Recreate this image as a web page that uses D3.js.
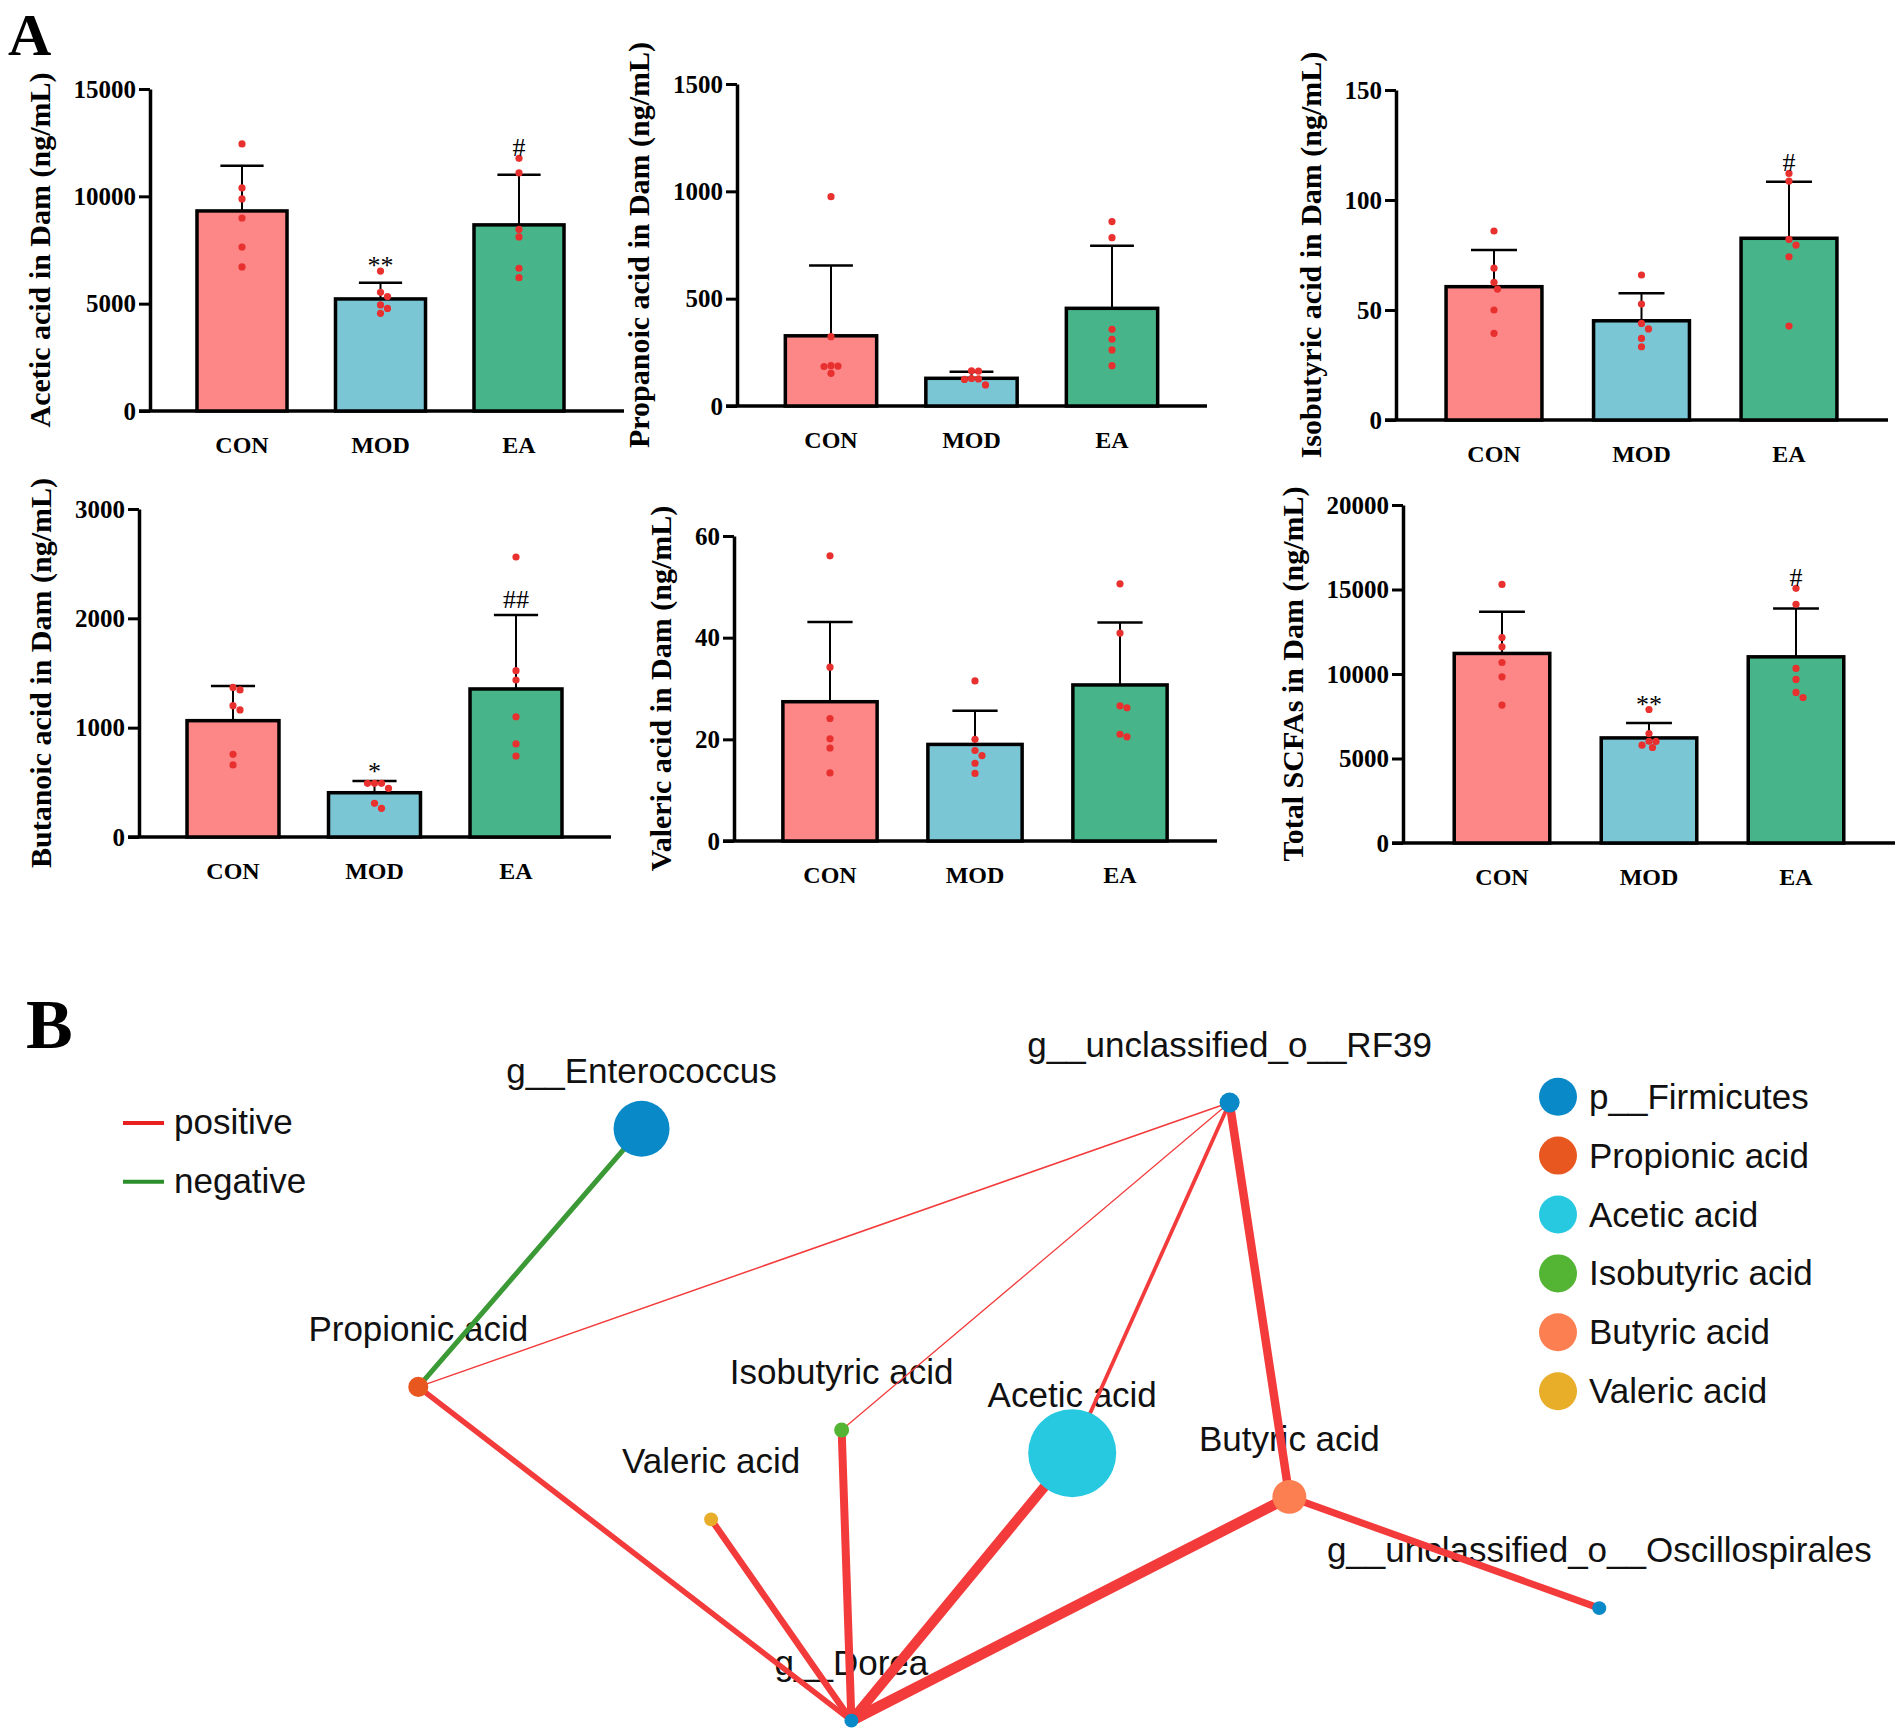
<!DOCTYPE html>
<html>
<head>
<meta charset="utf-8">
<script src="https://cdn.jsdelivr.net/npm/d3@7"></script>
<style>
  body { margin: 0; background: #fff; }
  svg { display: block; }
</style>
</head>
<body>
<div id="chart"></div>
<script>
// ---------- panel A data ----------
let groups = ["CON", "MOD", "EA"];
let groupColors = ["#fd8787", "#7bc6d4", "#47b48a"];

let aceticTicks = [0, 5000, 10000, 15000];
let aceticMean = [9320, 5220, 8670];
let aceticErr = [2100, 750, 2330];
let aceticPoints = [
  [12440, 10390, 9880, 8990, 7640, 6710],
  [6520, 5530, 5330, 4940, 4780, 4550],
  [11770, 11090, 8460, 8110, 6650, 6210]
];
let aceticMarks = ["", "**", "#"];

let propanoicTicks = [0, 500, 1000, 1500];
let propanoicMean = [327, 129, 455];
let propanoicErr = [327, 31, 292];
let propanoicPoints = [
  [975, 323, 188, 186, 184, 152],
  [164, 162, 128, 126, 124, 98],
  [859, 784, 357, 311, 261, 188]
];
let propanoicMarks = ["", "", ""];

let isobutyricTicks = [0, 50, 100, 150];
let isobutyricMean = [60.6, 45.1, 82.6];
let isobutyricErr = [16.7, 12.5, 25.7];
let isobutyricPoints = [
  [85.9, 69.0, 62.6, 59.5, 50.0, 39.4],
  [65.9, 52.7, 43.9, 41.4, 37.1, 33.3],
  [112.1, 108.6, 82.1, 79.5, 74.2, 42.7]
];
let isobutyricMarks = ["", "", "#"];

let butanoicTicks = [0, 1000, 2000, 3000];
let butanoicMean = [1064, 405, 1354];
let butanoicErr = [317, 107, 676];
let butanoicPoints = [
  [1368, 1345, 1201, 1162, 756, 659],
  [491, 491, 491, 445, 308, 262],
  [2561, 1521, 1436, 1100, 851, 741]
];
let butanoicMarks = ["", "*", "##"];

let valericTicks = [0, 20, 40, 60];
let valericMean = [27.4, 19.0, 30.7];
let valericErr = [15.7, 6.6, 12.3];
let valericPoints = [
  [56.1, 34.2, 24.1, 20.1, 18.3, 13.4],
  [31.5, 20.0, 17.8, 16.8, 15.3, 13.3],
  [50.6, 40.9, 26.6, 26.2, 21.0, 20.5]
];
let valericMarks = ["", "", ""];

let totalTicks = [0, 5000, 10000, 15000, 20000];
let totalMean = [11216, 6218, 11016];
let totalErr = [2465, 889, 2866];
let totalPoints = [
  [15300, 12160, 11610, 10680, 9830, 8160],
  [7900, 6480, 6020, 6010, 5790, 5650],
  [15070, 14120, 10330, 9680, 8910, 8610]
];
let totalMarks = ["", "**", "#"];

// ---------- panel B data ----------
let nodeNames = [
  "g__Enterococcus", "Propionic acid", "g__unclassified_o__RF39",
  "Isobutyric acid", "Acetic acid", "Butyric acid",
  "g__unclassified_o__Oscillospirales", "Valeric acid", "g__Dorea"
];
let nodeClass = [
  "p__Firmicutes", "Propionic acid", "p__Firmicutes",
  "Isobutyric acid", "Acetic acid", "Butyric acid",
  "p__Firmicutes", "Valeric acid", "p__Firmicutes"
];
// layout coordinates (0-100 layout units)
let nodeLayoutX = [19.8, 1.5, 68.0, 36.2, 55.1, 72.9, 98.3, 25.5, 37.0];
let nodeLayoutY = [4.6, 45.9, 0.4, 52.8, 56.5, 63.5, 81.3, 67.1, 99.3];
let nodeWeight = [0.405, 0.052, 0.052, 0.029, 1.0, 0.149, 0.025, 0.025, 0.025];

let edgeSource = [0, 1, 1, 2, 2, 2, 3, 7, 4, 5, 5];
let edgeTarget = [1, 2, 8, 3, 4, 5, 8, 8, 8, 8, 6];
let edgeR = [-0.76, 0.62, 0.78, 0.61, 0.71, 0.90, 0.88, 0.82, 0.96, 0.99, 0.84];

let classNames = ["p__Firmicutes", "Propionic acid", "Acetic acid", "Isobutyric acid", "Butyric acid", "Valeric acid"];
let classColors = ["#0a89c8", "#e8571f", "#27c9e1", "#54b434", "#fb7f50", "#e8ad29"];
let corrTypes = ["positive", "negative"];
let corrColors = ["#f33b3b", "#3b9a36"];

// ---------- setup ----------
let width = 1902;
let height = 1735;
let serif = "'Liberation Serif', 'Times New Roman', serif";
let sans = "'Liberation Sans', Arial, sans-serif";
let dotColor = "#e8302f";
let dotR = 3.6;

let svg = d3
  .select("#chart")
  .append("svg")
  .attr("width", width)
  .attr("height", height)
  .style("background", "#fff");

/* panel letters */
svg.append("text")
  .attr("x", 8).attr("y", 55)
  .attr("font-family", serif).attr("font-weight", "bold").attr("font-size", 60)
  .text("A");
svg.append("text")
  .attr("x", 26).attr("y", 1048)
  .attr("font-family", serif).attr("font-weight", "bold").attr("font-size", 70)
  .text("B");

/* bar panels: axis x, zero y, top y, first centre offset, step, axis end */
let panels = [
  { ax: 150, y0: 411, y1: 89, c0: 92, step: 138.5, xEnd: 624, title: "Acetic acid in Dam (ng/mL)", ticks: aceticTicks, mean: aceticMean, err: aceticErr, pts: aceticPoints, marks: aceticMarks },
  { ax: 737, y0: 406, y1: 84, c0: 94, step: 140.5, xEnd: 1207, title: "Propanoic acid in Dam (ng/mL)", ticks: propanoicTicks, mean: propanoicMean, err: propanoicErr, pts: propanoicPoints, marks: propanoicMarks },
  { ax: 1396, y0: 420, y1: 90, c0: 98, step: 147.5, xEnd: 1888, title: "Isobutyric acid in Dam (ng/mL)", ticks: isobutyricTicks, mean: isobutyricMean, err: isobutyricErr, pts: isobutyricPoints, marks: isobutyricMarks },
  { ax: 139, y0: 837, y1: 509, c0: 94, step: 141.5, xEnd: 611, title: "Butanoic acid in Dam (ng/mL)", ticks: butanoicTicks, mean: butanoicMean, err: butanoicErr, pts: butanoicPoints, marks: butanoicMarks },
  { ax: 734, y0: 841, y1: 536, c0: 96, step: 145, xEnd: 1217, title: "Valeric acid in Dam (ng/mL)", ticks: valericTicks, mean: valericMean, err: valericErr, pts: valericPoints, marks: valericMarks },
  { ax: 1403, y0: 843, y1: 505, c0: 99, step: 147, xEnd: 1895, title: "Total SCFAs in Dam (ng/mL)", ticks: totalTicks, mean: totalMean, err: totalErr, pts: totalPoints, marks: totalMarks }
];

// simple beeswarm: shift points sideways until they stop overlapping
function swarm(ys) {
  let placed = [];
  return ys.map(yy => {
    let cands = [0];
    for (let k = 1; k < 8; k++) cands.push(k * 3.5, -k * 3.5);
    let dx = cands.find(c => placed.every(p => Math.hypot(p.dx - c, p.y - yy) >= 2 * dotR - 0.2));
    placed.push({ dx: dx, y: yy });
    return dx;
  });
}

function drawPanel(p) {
  let g = svg.append("g");
  let y = d3.scaleLinear()
    .domain([0, d3.max(p.ticks)])
    .range([p.y0, p.y1]);
  let x = d3.scaleBand()
    .domain(groups)
    .range([p.ax + p.c0 - p.step / 2, p.ax + p.c0 + 2.5 * p.step])
    .paddingInner(0.35)
    .paddingOuter(0.175);
  let color = d3.scaleOrdinal().domain(groups).range(groupColors);

  /* y axis */
  let ya = g.append("g")
    .attr("transform", `translate(${p.ax},0)`)
    .call(d3.axisLeft(y).tickValues(p.ticks).tickSize(11).tickSizeOuter(0).tickPadding(3).tickFormat(d3.format("d")))
    .attr("font-family", serif)
    .attr("font-size", 25)
    .attr("font-weight", "bold");
  ya.select(".domain").attr("stroke-width", 3.5);
  ya.selectAll(".tick line").attr("stroke-width", 3);
  ya.selectAll(".tick text").attr("fill", "#000");

  let maxW = d3.max(ya.selectAll(".tick text").nodes(), n => n.getBBox().width);

  /* x axis line */
  g.append("line")
    .attr("x1", p.ax - 11).attr("x2", p.xEnd)
    .attr("y1", p.y0).attr("y2", p.y0)
    .attr("stroke", "#000").attr("stroke-width", 3.5);

  /* bars */
  g.selectAll(".bar")
    .data(groups)
    .enter()
    .append("rect")
    .attr("class", "bar")
    .attr("x", d => x(d))
    .attr("y", (d, i) => y(p.mean[i]))
    .attr("width", x.bandwidth())
    .attr("height", (d, i) => p.y0 - y(p.mean[i]))
    .attr("fill", d => color(d))
    .attr("stroke", "#000")
    .attr("stroke-width", 3.5);

  /* error bars (upper only) */
  let cap = x.bandwidth() * 0.24;
  groups.forEach((gname, i) => {
    let cx = x(gname) + x.bandwidth() / 2;
    let top = y(p.mean[i] + p.err[i]);
    g.append("line")
      .attr("x1", cx).attr("x2", cx)
      .attr("y1", y(p.mean[i])).attr("y2", top)
      .attr("stroke", "#000").attr("stroke-width", 2);
    g.append("line")
      .attr("x1", cx - cap).attr("x2", cx + cap)
      .attr("y1", top).attr("y2", top)
      .attr("stroke", "#000").attr("stroke-width", 2.5);

    /* points */
    let ys = p.pts[i].map(v => y(v));
    let offs = swarm(ys);
    g.selectAll(".pt-" + i)
      .data(p.pts[i])
      .enter()
      .append("circle")
      .attr("cx", (d, k) => cx + offs[k])
      .attr("cy", d => y(d))
      .attr("r", dotR)
      .attr("fill", dotColor);

    /* significance marks */
    let m = p.marks[i];
    if (m) {
      let near = ys.filter(py => py < top && py > top - 30).map(py => py - dotR);
      let anchor = d3.min([top - 8].concat(near));
      let isStar = m.indexOf("*") >= 0;
      g.append("text")
        .attr("x", cx)
        .attr("y", anchor + (isStar ? 7 : 1))
        .attr("text-anchor", "middle")
        .attr("font-family", serif)
        .attr("font-size", 26)
        .text(m);
    }
  });

  /* category labels */
  g.selectAll(".cat")
    .data(groups)
    .enter()
    .append("text")
    .attr("x", d => x(d) + x.bandwidth() / 2)
    .attr("y", p.y0 + 42)
    .attr("text-anchor", "middle")
    .attr("font-family", serif)
    .attr("font-weight", "bold")
    .attr("font-size", 24)
    .text(d => d);

  /* y title */
  let bx = p.ax - 14 - maxW - 24;
  g.append("text")
    .attr("transform", `translate(${bx},${(p.y0 + p.y1) / 2}) rotate(-90)`)
    .attr("text-anchor", "middle")
    .attr("font-family", serif)
    .attr("font-weight", "bold")
    .attr("font-size", 30)
    .text(p.title);
}

panels.forEach(drawPanel);

/* ---------- network ---------- */
let nx = d3.scaleLinear().domain([0, 100]).range([400, 1620]);
let ny = d3.scaleLinear().domain([0, 100]).range([1100, 1725]);
let nr = d3.scaleSqrt().domain([0, 1]).range([0, 44]);
let ew = d3.scaleLinear().domain([0.6, 1.0]).range([1, 11]);
let classColor = d3.scaleOrdinal().domain(classNames).range(classColors);

let nodes = nodeNames.map((name, i) => ({
  name: name,
  cls: nodeClass[i],
  x: nx(nodeLayoutX[i]),
  y: ny(nodeLayoutY[i]),
  r: nr(nodeWeight[i])
}));
let edges = edgeSource.map((s, i) => ({ s: nodes[s], t: nodes[edgeTarget[i]], r: edgeR[i] }));

let net = svg.append("g").attr("class", "network");

net.selectAll(".nlabel")
  .data(nodes)
  .enter()
  .append("text")
  .attr("class", "nlabel")
  .attr("x", d => d.x)
  .attr("y", d => d.y - 46)
  .attr("text-anchor", "middle")
  .attr("font-family", sans)
  .attr("font-size", 35)
  .attr("fill", "#111")
  .text(d => d.name);

net.selectAll(".edge")
  .data(edges)
  .enter()
  .append("line")
  .attr("class", "edge")
  .attr("x1", d => d.s.x).attr("y1", d => d.s.y)
  .attr("x2", d => d.t.x).attr("y2", d => d.t.y)
  .attr("stroke", d => (d.r > 0 ? corrColors[0] : corrColors[1]))
  .attr("stroke-width", d => ew(Math.abs(d.r)))
  .attr("stroke-linecap", "round");

net.selectAll(".node")
  .data(nodes)
  .enter()
  .append("circle")
  .attr("class", "node")
  .attr("cx", d => d.x)
  .attr("cy", d => d.y)
  .attr("r", d => d.r)
  .attr("fill", d => classColor(d.cls));

/* legend: correlation */
let lg1 = net.selectAll(".lg1")
  .data(corrTypes)
  .enter()
  .append("g")
  .attr("transform", (d, i) => `translate(123,${1123 + i * 58.7})`);
lg1.append("line")
  .attr("x1", 0).attr("x2", 41)
  .attr("stroke", (d, i) => (i === 0 ? "#e8201f" : "#2b8e2b"))
  .attr("stroke-width", 4);
lg1.append("text")
  .attr("x", 51).attr("y", 11)
  .attr("font-family", sans).attr("font-size", 35).attr("fill", "#111")
  .text(d => d);

/* legend: node classes */
let lg2 = net.selectAll(".lg2")
  .data(classNames)
  .enter()
  .append("g")
  .attr("transform", (d, i) => `translate(1558,${1096.7 + i * 58.9})`);
lg2.append("circle")
  .attr("r", 19)
  .attr("fill", d => classColor(d));
lg2.append("text")
  .attr("x", 31).attr("y", 12)
  .attr("font-family", sans).attr("font-size", 35).attr("fill", "#111")
  .text(d => d);
</script>
</body>
</html>
